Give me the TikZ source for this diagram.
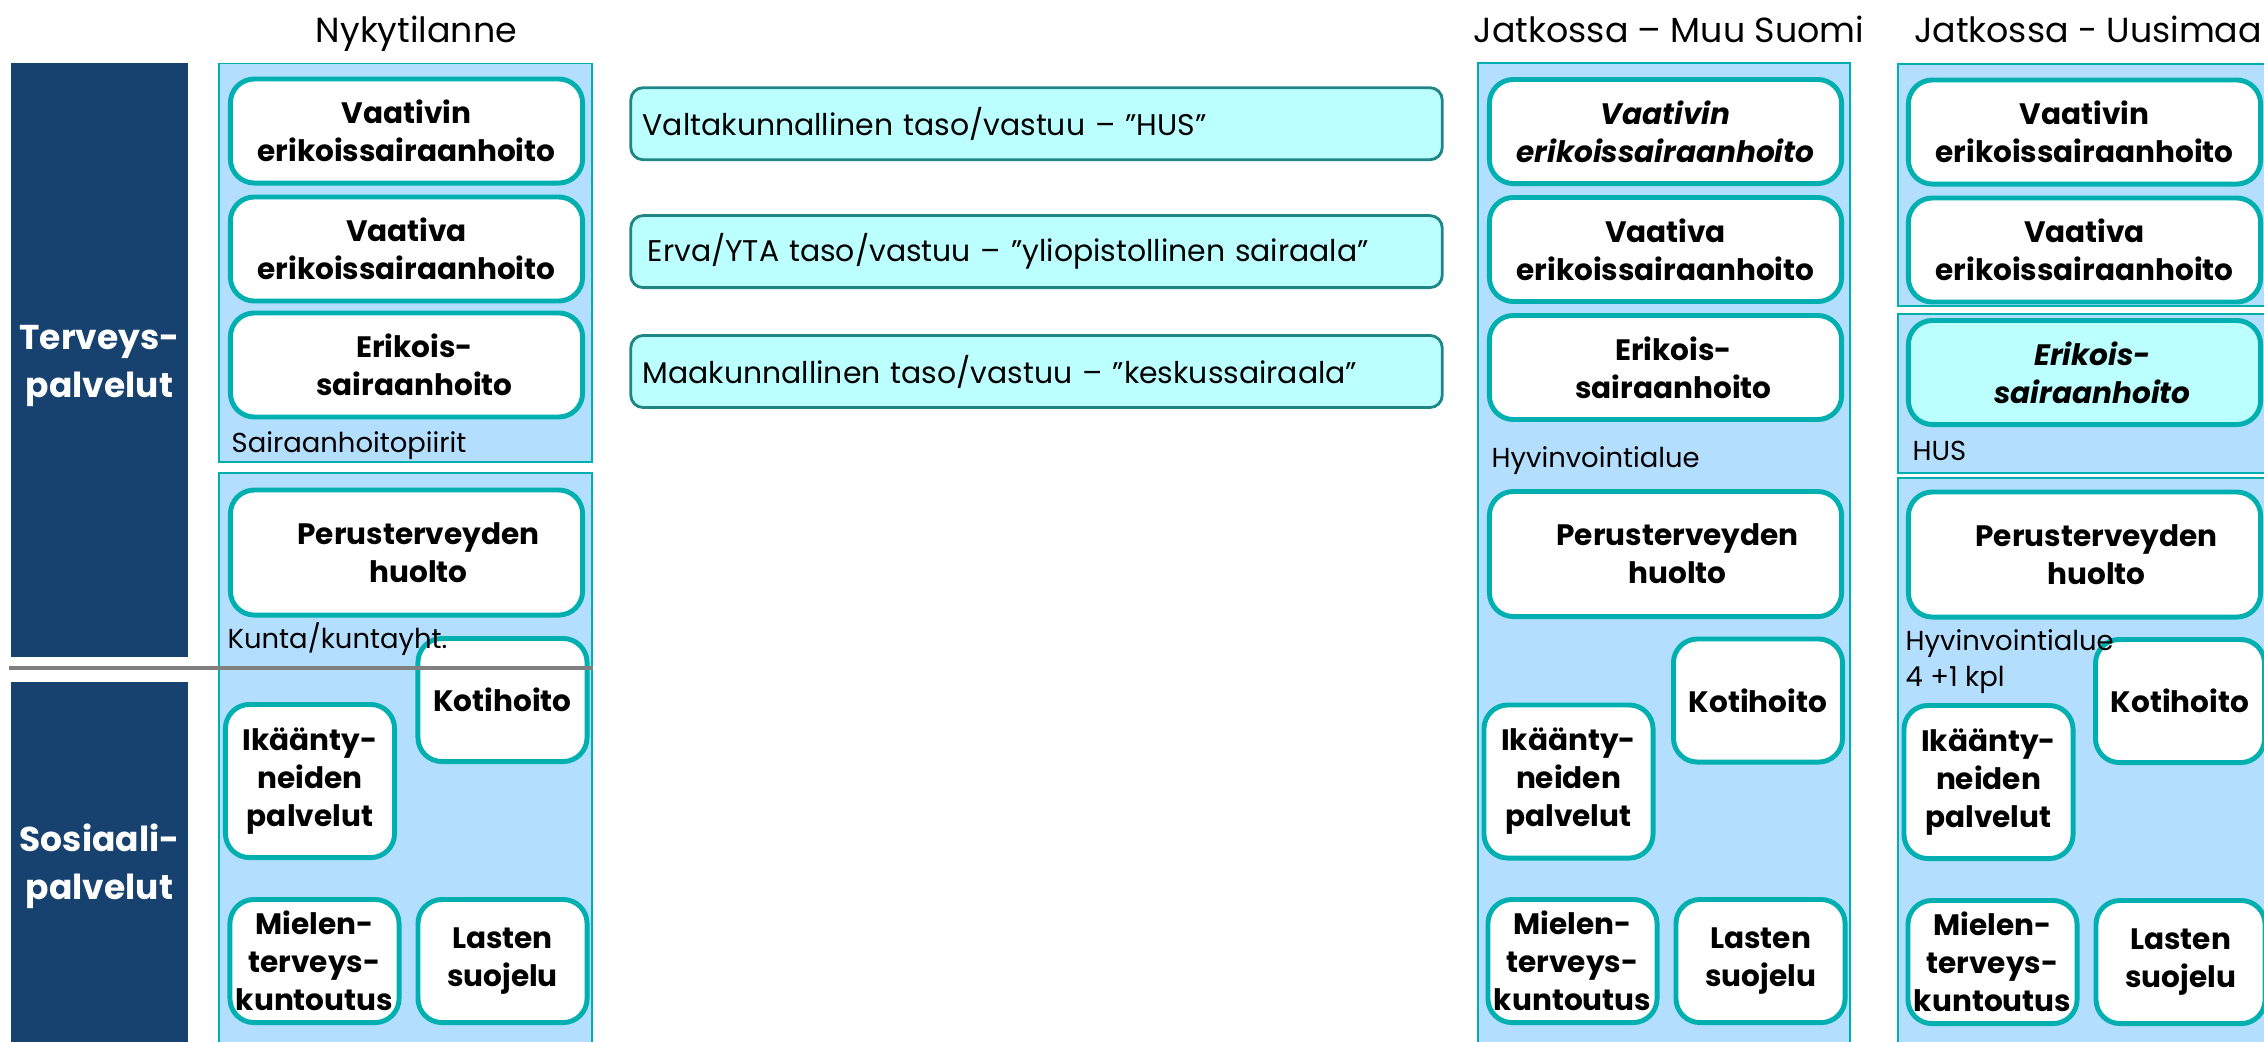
\documentclass[tikz,border=0pt]{standalone}
\usepackage{fontspec}
\setmainfont{Poppins}
\usetikzlibrary{positioning}
\definecolor{navy}{HTML}{17416F}
\definecolor{paleblue}{HTML}{B4DEFD}
\definecolor{tealline}{HTML}{00AFAF}
\definecolor{palecyan}{HTML}{BBFFFF}
\definecolor{darkteal}{HTML}{1F8585}

\begin{document}
\begin{tikzpicture}[x=0.01cm, y=-0.01cm, node distance=0.09cm,
    area/.style={fill=paleblue, draw=tealline, line width=0.4pt},
    svc/.style={draw=tealline, line width=1.4pt, fill=white, rounded corners=6.8pt, align=center, inner sep=1pt, font=\bfseries\fontsize{8.4}{10.8}\selectfont},
    ital/.style={font=\bfseries\itshape\fontsize{8.4}{10.8}\selectfont},
    wide/.style={minimum width=3.52cm, minimum height=1.04cm},
    small/.style={minimum width=1.69cm, minimum height=1.23cm},
    level/.style={draw=darkteal, line width=0.8pt, fill=palecyan, rounded corners=3.5pt, minimum height=0.72cm, text width=7.87cm, inner xsep=0.12cm, align=left, font=\fontsize{8.5}{10}\selectfont},
    side/.style={fill=navy, text=white, align=center, minimum width=1.77cm, inner xsep=0pt, font=\bfseries\fontsize{9.8}{13.6}\selectfont},
    head/.style={anchor=base, font=\fontsize{9.9}{12}\selectfont},
    tag/.style={anchor=base west, inner sep=0pt, font=\fontsize{7.8}{10}\selectfont}]

    \useasboundingbox (0,0) rectangle (2264,1041);
    \clip (0,0) rectangle (2264,1041);

    % left bars
    \fill[navy] (11,63) rectangle (188,657);
    \node[side] (terveys) at (99.5,366) {Terveys-\\palvelut};
    \node[side, minimum height=3.68cm] (sosiaali) at (99.5,866) {Sosiaali-\\palvelut};

    % headings
    \node[head] (nyky) at (416.5,42) {Nykytilanne};
    \node[head] (muu) at (1669,42) {Jatkossa – Muu Suomi};
    \node[head] (uusi) at (2088,42) {Jatkossa - Uusimaa};

    % areas
    \draw[area] (219,63.5) rectangle (592,462);
    \draw[area] (219,473) rectangle (592,1050);
    \draw[area] (1478,63) rectangle (1850,1050);
    \draw[area] (1898,64) rectangle (2275,306);
    \draw[area] (1898,314) rectangle (2275,473);
    \draw[area] (1898,478) rectangle (2275,1050);

    % responsibility levels
    \node[level] (valta) at (1036.5,123.7) {Valtakunnallinen taso/vastuu – ”HUS”};
    \node[level, below=0.53cm of valta] (erva) {\hspace*{0.05cm}Erva/YTA taso/vastuu – ”yliopistollinen sairaala”};
    \node[level, below=0.45cm of erva] (maaku) {Maakunnallinen taso/vastuu – ”keskussairaala”};

    % Nykytilanne
    \node[svc, wide] (vaativin1) at (406.5,131) {Vaativin\\erikoissairaanhoito};
    \node[svc, wide, below=of vaativin1] (vaativa1) {Vaativa\\erikoissairaanhoito};
    \node[svc, wide, below=0.07cm of vaativa1] (erikois1) {\hspace*{0.16cm}Erikois-\\\hspace*{0.16cm}sairaanhoito};
    \node[tag] (piiri) at (231,452) {Sairaanhoitopiirit};
    \node[svc, wide, minimum height=1.25cm] (perus1) at (406.5,552.5) {\hspace*{0.24cm}Perusterveyden\\\hspace*{0.24cm}huolto};
    \node[svc, small] (koti1) at (502.5,700) {Kotihoito};
    \node[svc, small, minimum height=1.53cm] (ika1) at (310,781) {Ikäänty-\\neiden\\palvelut};
    \node[svc, small] (mielen1) at (314.5,961) {Mielen-\\terveys-\\kuntoutus};
    \node[svc, small, right=0.14cm of mielen1] (lasten1) {Lasten\\suojelu};
    \node[tag] (kunta) at (227,648) {Kunta/kuntayht.};

    % Jatkossa - Muu Suomi
    \node[svc, wide, ital] (vaativin2) at (1665.5,131.5) {Vaativin\\erikoissairaanhoito};
    \node[svc, wide, below=of vaativin2] (vaativa2) {Vaativa\\erikoissairaanhoito};
    \node[svc, wide, below=of vaativa2] (erikois2) {\hspace*{0.16cm}Erikois-\\\hspace*{0.16cm}sairaanhoito};
    \node[tag] (hyvin2) at (1491,467) {Hyvinvointialue};
    \node[svc, wide, minimum height=1.25cm] (perus2) at (1665.5,554) {\hspace*{0.24cm}Perusterveyden\\\hspace*{0.24cm}huolto};
    \node[svc, small] (koti2) at (1758,700.5) {Kotihoito};
    \node[svc, small, minimum height=1.53cm] (ika2) at (1568.5,781.5) {Ikäänty-\\neiden\\palvelut};
    \node[svc, small] (mielen2) at (1572.5,961) {Mielen-\\terveys-\\kuntoutus};
    \node[svc, small, right=0.14cm of mielen2] (lasten2) {Lasten\\suojelu};

    % Jatkossa - Uusimaa
    \node[svc, wide] (vaativin3) at (2084.5,132) {Vaativin\\erikoissairaanhoito};
    \node[svc, wide, below=of vaativin3] (vaativa3) {Vaativa\\erikoissairaanhoito};
    \node[svc, wide, ital, fill=palecyan] (erikois3) at (2084.5,372.5) {\hspace*{0.16cm}Erikois-\\\hspace*{0.16cm}sairaanhoito};
    \node[tag] (hus) at (1912,460) {HUS};
    \node[svc, wide, minimum height=1.25cm] (perus3) at (2084.5,554.5) {\hspace*{0.24cm}Perusterveyden\\\hspace*{0.24cm}huolto};
    \node[svc, small] (koti3) at (2180,701) {Kotihoito};
    \node[svc, small, minimum height=1.53cm] (ika3) at (1988.5,782) {Ikäänty-\\neiden\\palvelut};
    \node[svc, small] (mielen3) at (1992.5,962) {Mielen-\\terveys-\\kuntoutus};
    \node[svc, small, right=0.14cm of mielen3] (lasten3) {Lasten\\suojelu};
    \node[tag] (hyvin3) at (1905,650) {Hyvinvointialue};
    \node[tag] (kpl3) at (1905,686) {4 +1 kpl};

    % border between health and social services
    \coordinate (cutw) at (9,668);
    \coordinate (cute) at (593,668);
    \draw[gray, line width=1.4pt] (cutw) -- (cute);
\end{tikzpicture}
\end{document}
